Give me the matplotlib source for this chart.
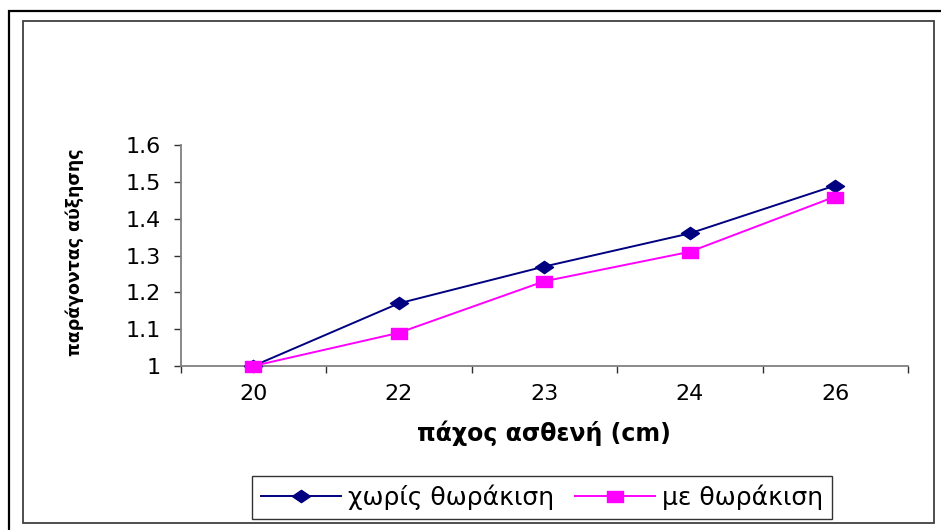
import matplotlib
matplotlib.use("Agg")
import matplotlib.pyplot as plt
from matplotlib.path import Path
from matplotlib.lines import Line2D
from matplotlib.patches import Rectangle
from matplotlib.ticker import FixedLocator, NullFormatter

plt.rcParams['font.family'] = ['DejaVu Sans']

# data
thickness = ['20', '22', '23', '24', '26']
no_shield = [1.00, 1.17, 1.27, 1.36, 1.49]
with_shield = [1.00, 1.09, 1.23, 1.31, 1.46]
y_ticks = [1.0, 1.1, 1.2, 1.3, 1.4, 1.5, 1.6]
y_tick_labels = ['1', '1.1', '1.2', '1.3', '1.4', '1.5', '1.6']
series_names = ['χωρίς θωράκιση', 'με θωράκιση']

W, H = 941, 530
fig = plt.figure(figsize=(W / 100, H / 100), dpi=100)


def px(x, y):
    """Pixel position (from top-left) to figure fraction."""
    return x / W, 1 - y / H


# outer page border (left and top) and inner chart-area frame
ox, oy = px(9, 530)
ox2, oy2 = px(9, 11)
ox3, oy3 = px(941, 11)
fig.add_artist(Line2D([ox, ox2, ox3], [oy, oy2, oy3], color='black',
                      lw=1.6, transform=fig.transFigure, solid_joinstyle='miter'))
ix, iy = px(22.5, 523)
fig.add_artist(Rectangle((ix, iy), (934 - 22.5) / W, (523 - 20.5) / H,
                         transform=fig.transFigure, fill=False,
                         edgecolor='#404040', lw=1.3))

ax_l, ax_r, ax_t, ax_b = 180.5, 908, 145, 366
ax = fig.add_axes([ax_l / W, 1 - ax_b / H, (ax_r - ax_l) / W, (ax_b - ax_t) / H])

x = list(range(len(thickness)))

# flattened diamond and wide square markers
diamond = Path([(-1, 0), (0, 0.68), (1, 0), (0, -0.68), (-1, 0)],
               [Path.MOVETO, Path.LINETO, Path.LINETO, Path.LINETO, Path.CLOSEPOLY])
square = Path([(-1, -0.72), (1, -0.72), (1, 0.72), (-1, 0.72), (-1, -0.72)],
              [Path.MOVETO, Path.LINETO, Path.LINETO, Path.LINETO, Path.CLOSEPOLY])

ax.plot(x, no_shield, color='#000080', lw=1.4, marker=diamond, markersize=13,
        markerfacecolor='#000080', markeredgecolor='#000080', label=series_names[0],
        clip_on=False, zorder=3)
ax.plot(x, with_shield, color='#FF00FF', lw=1.4, marker=square, markersize=11,
        markerfacecolor='#FF00FF', markeredgecolor='#FF00FF', label=series_names[1],
        clip_on=False, zorder=4)

ax.set_xlim(-0.5, len(thickness) - 0.5)
ax.set_ylim(1.0, 1.6)

for s in ['top', 'right']:
    ax.spines[s].set_visible(False)
for s in ['left', 'bottom']:
    ax.spines[s].set_color('#808080')
    ax.spines[s].set_linewidth(1.3)

ax.set_yticks(y_ticks)
ax.set_yticklabels(y_tick_labels)
ax.tick_params(axis='y', direction='out', length=5, width=1, color='#303030',
               pad=9, labelsize=16)

ax.set_xticks(x)
ax.set_xticklabels(thickness)
ax.tick_params(axis='x', which='major', length=0, pad=13, labelsize=16)
ax.xaxis.set_minor_locator(FixedLocator([i - 0.5 for i in range(len(thickness) + 1)]))
ax.xaxis.set_minor_formatter(NullFormatter())
ax.tick_params(axis='x', which='minor', direction='out', length=5, width=1, color='#303030')

ax.set_xlabel('πάχος ασθενή (cm)', fontsize=17, fontweight='bold', labelpad=12)

lx, ly = px(75, 252)
fig.text(lx, ly, 'παράγοντας αύξησης', rotation=90, ha='center', va='center',
         fontsize=12.5, fontweight='bold')

leg = fig.legend(loc='center', bbox_to_anchor=px((250 + 834) / 2, 497),
                 ncol=2, frameon=True, fancybox=False, shadow=False,
                 fontsize=18, handlelength=3.2, handletextpad=0.3,
                 columnspacing=0.8, borderpad=0.35)
leg.get_frame().set_edgecolor('black')
leg.get_frame().set_linewidth(1.0)

fig.savefig('out.png', dpi=100)
